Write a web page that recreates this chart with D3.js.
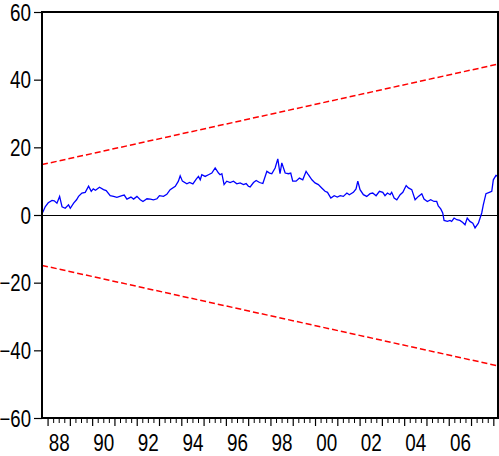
<!DOCTYPE html>
<html>
<head>
<meta charset="utf-8">
<script src="https://cdn.jsdelivr.net/npm/d3@7"></script>
<style>
  body { margin: 0; background: #fff; }
  .axis text { font-family: "Liberation Sans Narrow", "Arial Narrow", "Liberation Sans", sans-serif; font-size: 23px; fill: #000; }
</style>
</head>
<body>
<div id="chart"></div>
<script>
// chart size and plot frame
var w = 499;
var h = 456;
var margins = { top: 12, right: 1, bottom: 38, left: 42 };
var width = w - margins.left - margins.right;
var height = h - margins.top - margins.bottom;

// sample range (decimal years) and y ticks
var sampleRange = [1987.75, 2008.21];
var yTicks = [-60, -40, -20, 0, 20, 40, 60];
var labelYears = [1988, 1990, 1992, 1994, 1996, 1998, 2000, 2002, 2004, 2006];

// 5% significance bounds (start and end of sample)
var upperBound = [14.9, 44.6];
var lowerBound = [-14.9, -44.6];

// CUSUM
var dates = [
  1987.76, 1987.81, 1987.90, 1988.03, 1988.20, 1988.30, 1988.42, 1988.54, 1988.65, 1988.79,
  1988.94, 1989.02, 1989.17, 1989.30, 1989.39, 1989.54, 1989.69, 1989.84, 1989.96, 1990.05,
  1990.15, 1990.33, 1990.51, 1990.63, 1990.81, 1990.96, 1991.11, 1991.34, 1991.44, 1991.56,
  1991.74, 1991.86, 1992.01, 1992.16, 1992.28, 1992.46, 1992.61, 1992.75, 1992.91, 1993.02,
  1993.20, 1993.35, 1993.50, 1993.73, 1993.87, 1993.95, 1994.05, 1994.25, 1994.37, 1994.52,
  1994.67, 1994.77, 1994.85, 1994.92, 1995.07, 1995.22, 1995.37, 1995.52, 1995.67, 1995.74,
  1995.82, 1995.92, 1996.04, 1996.19, 1996.34, 1996.49, 1996.64, 1996.79, 1996.91, 1997.01,
  1997.09, 1997.24, 1997.36, 1997.51, 1997.66, 1997.84, 1997.96, 1998.06, 1998.21, 1998.33,
  1998.43, 1998.51, 1998.66, 1998.81, 1998.91, 1999.00, 1999.15, 1999.30, 1999.45, 1999.60,
  1999.70, 1999.86, 2000.00, 2000.15, 2000.30, 2000.45, 2000.56, 2000.71, 2000.86, 2001.00,
  2001.13, 2001.27, 2001.43, 2001.54, 2001.72, 2001.84, 2001.92, 2002.02, 2002.17, 2002.32,
  2002.47, 2002.59, 2002.74, 2002.89, 2003.04, 2003.14, 2003.25, 2003.37, 2003.44, 2003.55,
  2003.67, 2003.82, 2003.94, 2004.09, 2004.19, 2004.34, 2004.49, 2004.64, 2004.79, 2004.89,
  2005.04, 2005.19, 2005.34, 2005.46, 2005.53, 2005.64, 2005.73, 2005.79, 2005.94, 2006.06,
  2006.13, 2006.24, 2006.36, 2006.50, 2006.63, 2006.73, 2006.83, 2006.95, 2007.08, 2007.18,
  2007.33, 2007.48, 2007.55, 2007.67, 2007.82, 2007.93, 2008.00, 2008.12, 2008.21
];
var cusum = [
  0.5, 1.2, 2.5, 3.6, 4.3, 4.2, 3.5, 5.5, 2.4, 2.0,
  3.0, 2.0, 3.5, 4.5, 5.5, 6.5, 6.7, 8.5, 7.0, 7.7,
  7.3, 8.2, 7.5, 7.2, 5.7, 5.5, 5.2, 5.7, 5.9, 4.7,
  5.3, 4.7, 5.5, 4.5, 4.0, 4.8, 4.7, 4.5, 4.8, 5.7,
  5.5, 6.1, 7.5, 8.5, 10.0, 11.6, 10.0, 9.2, 9.6, 9.2,
  10.6, 11.4, 10.4, 11.9, 11.4, 11.9, 12.4, 13.9, 12.4, 11.9,
  12.2, 9.0, 10.0, 9.6, 10.0, 9.2, 9.5, 9.0, 9.3, 8.5,
  8.3, 9.6, 10.2, 9.6, 9.3, 12.9, 12.4, 12.2, 13.9, 16.6,
  12.2, 15.4, 12.4, 12.2, 12.4, 10.0, 10.0, 10.9, 10.4, 12.9,
  11.9, 10.4, 9.5, 9.0, 8.0, 7.0, 6.7, 5.0, 5.7, 5.3,
  5.7, 5.5, 6.5, 6.0, 6.7, 7.7, 10.0, 7.5, 6.0, 5.5,
  6.3, 6.5, 5.7, 7.0, 6.7, 5.7, 6.5, 6.0, 6.7, 5.0,
  4.5, 6.0, 6.7, 8.7, 8.0, 7.5, 4.5, 5.5, 6.3, 4.7,
  4.0, 4.5, 4.0, 4.0, 2.7, 1.8, 0.6, -1.6, -1.9, -1.6,
  -1.9, -0.9, -1.4, -1.6, -2.2, -2.9, -0.9, -1.9, -2.4, -3.8,
  -2.4, 0.6, 3.0, 6.3, 6.7, 7.0, 10.4, 11.7, 11.4
];

// scales
var x = d3.scaleLinear().domain(sampleRange).range([0, width]);
var y = d3.scaleLinear().domain([-60, 60]).range([height, 0]);

var svg = d3.select("#chart").append("svg")
    .attr("width", w)
    .attr("height", h)
  .append("g")
    .attr("transform", "translate(" + margins.left + "," + margins.top + ")");

// narrow the labels like the original's condensed font
function narrow(sel) {
  sel.each(function() {
    var t = d3.select(this).text();
    var len = 0;
    for (var i = 0; i < t.length; i++) len += (t[i] === "-") ? 6.3 : 10.5;
    d3.select(this).attr("textLength", len).attr("lengthAdjust", "spacingAndGlyphs");
  });
}

// zero line
svg.append("line")
    .attr("x1", 0).attr("x2", width)
    .attr("y1", y(0) + 0.5).attr("y2", y(0) + 0.5)
    .attr("stroke", "#000")
    .attr("stroke-width", 1);

// significance bounds
var boundLine = d3.line()
    .x(function(d, i) { return x(sampleRange[i]); })
    .y(function(d) { return y(d); });

[upperBound, lowerBound].forEach(function(b) {
  svg.append("path")
      .attr("d", boundLine(b))
      .attr("fill", "none")
      .attr("stroke", "#ff0000")
      .attr("stroke-width", 1.5)
      .attr("stroke-dasharray", "6,3");
});

// CUSUM line
var line = d3.line()
    .x(function(d, i) { return x(dates[i]); })
    .y(function(d) { return y(d); });

svg.append("path")
    .attr("d", line(cusum))
    .attr("fill", "none")
    .attr("stroke", "#0000ff")
    .attr("stroke-width", 1.3);

// y axis
var yAxis = svg.append("g")
    .attr("class", "axis")
    .call(d3.axisLeft(y).tickValues(yTicks).tickSize(8).tickPadding(3));
yAxis.select(".domain").remove();
yAxis.selectAll("line").attr("stroke", "#000").attr("stroke-width", 1.2);
yAxis.selectAll("text").attr("dy", "0.36em").call(narrow);

// x axis: quarter ticks, year ticks, labels at mid-year
var quarters = d3.range(1988, 2008.01, 0.25).filter(function(d) { return d % 1 !== 0; });
var years = d3.range(1988, 2009, 1);

var xMinor = svg.append("g")
    .attr("class", "axis")
    .attr("transform", "translate(0," + height + ")")
    .call(d3.axisBottom(x).tickValues(quarters).tickSize(5).tickFormat(""));
xMinor.select(".domain").remove();
xMinor.selectAll("line").attr("stroke", "#000");

var xMajor = svg.append("g")
    .attr("class", "axis")
    .attr("transform", "translate(0," + height + ")")
    .call(d3.axisBottom(x).tickValues(years).tickSize(8).tickFormat(""));
xMajor.select(".domain").remove();
xMajor.selectAll("line").attr("stroke", "#000").attr("stroke-width", 1.2);

var xLabels = svg.append("g")
    .attr("class", "axis")
    .attr("transform", "translate(0," + height + ")")
    .call(d3.axisBottom(x)
      .tickValues(labelYears.map(function(d) { return d + 0.5; }))
      .tickSize(0)
      .tickPadding(17)
      .tickFormat(function(d) { return d3.format("02d")(Math.floor(d) % 100); }));
xLabels.select(".domain").remove();
xLabels.selectAll("text").call(narrow);

// plot frame
svg.append("rect")
    .attr("x", 0).attr("y", 0)
    .attr("width", width).attr("height", height)
    .attr("fill", "none")
    .attr("stroke", "#000")
    .attr("stroke-width", 2);
</script>
</body>
</html>
